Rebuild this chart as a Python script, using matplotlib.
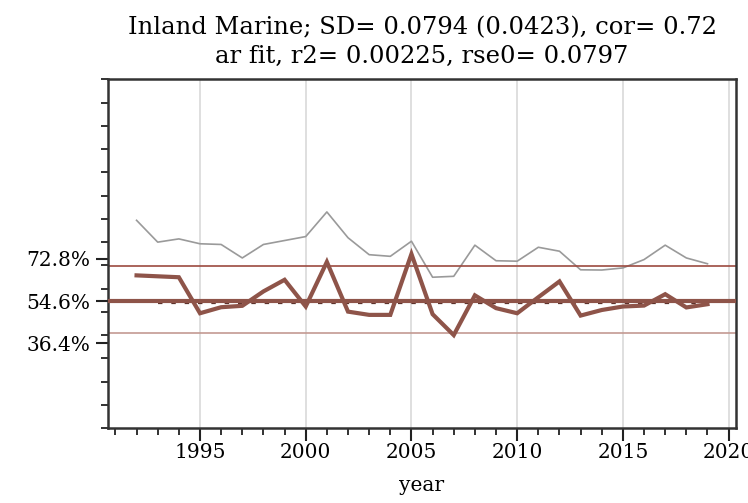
import matplotlib.pyplot as plt
import numpy as np

years = list(range(1992, 2020))
# grey series (upper thin line), fraction
grey = [0.894, 0.800, 0.814, 0.793, 0.790, 0.732, 0.790, 0.807, 0.824, 0.930,
        0.819, 0.746, 0.739, 0.804, 0.649, 0.653, 0.787, 0.720, 0.718, 0.778,
        0.761, 0.681, 0.680, 0.689, 0.725, 0.787, 0.732, 0.707]
# brown series (thick line)
brown = [0.657, 0.653, 0.649, 0.494, 0.520, 0.526, 0.588, 0.638, 0.523, 0.715,
         0.501, 0.487, 0.487, 0.749, 0.490, 0.400, 0.571, 0.516, 0.494, 0.563,
         0.631, 0.484, 0.508, 0.523, 0.527, 0.576, 0.519, 0.533]
mean_level = 0.548
upper_level = 0.696
lower_level = 0.407
fit_level = 0.538
ytick_vals = [0.364, 0.546, 0.728]
ytick_labels = ['36.4%', '54.6%', '72.8%']
xtick_vals = [1995, 2000, 2005, 2010, 2015, 2020]

title = ('Inland Marine; SD= 0.0794 (0.0423), cor= 0.72\n'
         'ar fit, r2= 0.00225, rse0= 0.0797')

plt.rcParams['font.family'] = 'DejaVu Serif'

fig = plt.figure(figsize=(7.48, 5.03), dpi=100)
ax = fig.add_axes([0.1444, 0.149, 0.8396, 0.693])

brown_c = '#8e5449'
for x in xtick_vals:
    ax.axvline(x, color='#dcdcdc', lw=1.3, zorder=0)

ax.plot(years, grey, color='#9a9a9a', lw=1.2, zorder=2)
ax.axhline(upper_level, color='#9c4a40', lw=1.2, zorder=2)
ax.axhline(lower_level, color='#c39a92', lw=1.2, zorder=2)
ax.axhline(mean_level, color=brown_c, lw=3.0, zorder=3)
ax.plot([years[1], years[-1]], [fit_level, fit_level], color='#5a3029',
        lw=1.6, ls=(0, (2, 4)), zorder=2.5)
ax.plot(years, brown, color=brown_c, lw=3.0, zorder=4,
        solid_joinstyle='miter')

ax.set_xlim(1990.65, 2020.35)
ax.set_ylim(0, 1.5)

ax.set_xticks(xtick_vals)
ax.set_xticks(np.arange(1991, 2021), minor=True)
ax.set_yticks(ytick_vals)
ax.set_yticklabels(ytick_labels)
ax.set_yticks(np.arange(0, 1.51, 0.1), minor=True)

ax.tick_params(axis='both', which='major', length=9, width=1.5,
               color='#222222', labelsize=14.5, pad=4)
ax.tick_params(axis='both', which='minor', length=5, width=1.3,
               color='#222222')
ax.tick_params(axis='x', which='major', pad=2)

for s in ax.spines.values():
    s.set_linewidth(1.8)
    s.set_color('#333333')

ax.set_xlabel('year', fontsize=14.5, labelpad=10)
ax.set_title(title, fontsize=17.5, linespacing=1.3, pad=12)

fig.savefig('out.png', dpi=100)
